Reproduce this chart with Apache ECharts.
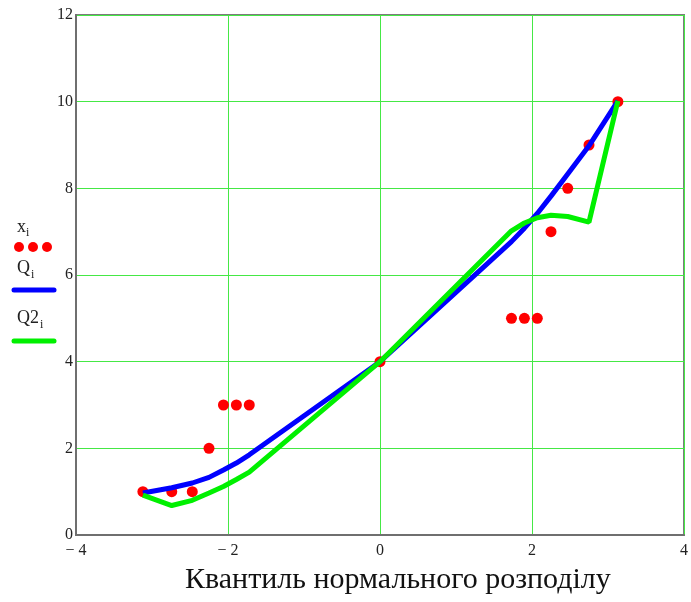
<!DOCTYPE html>
<html>
<head>
<meta charset="utf-8">
<script src="https://cdn.jsdelivr.net/npm/echarts@6/dist/echarts.min.js"></script>
<style>
  html, body { margin: 0; padding: 0; background: #fff; }
  #chart { width: 691px; height: 602px; }
</style>
</head>
<body>
<div id="chart"></div>
<script>
// Normal quantiles (x positions) shared by all three series
var quantiles = [-3.12, -2.74, -2.47, -2.25, -2.06, -1.89, -1.72, 0, 1.73, 1.90, 2.07, 2.25, 2.47, 2.75, 3.13];
// Sorted sample values x_i
var xValues = [1, 1, 1, 2, 3, 3, 3, 4, 5, 5, 5, 7, 8, 9, 10];
// Fitted quantile curve Q_i
var qValues = [0.97, 1.09, 1.20, 1.33, 1.50, 1.66, 1.85, 4.0, 6.77, 7.08, 7.42, 7.82, 8.33, 8.98, 10.02];
// Second fitted curve Q2_i
var q2Values = [0.92, 0.68, 0.80, 0.97, 1.12, 1.28, 1.45, 4.0, 7.02, 7.20, 7.32, 7.38, 7.35, 7.22, 10.02];
// Axis settings
var xTicks = { min: -4, max: 4, step: 2 };
var yTicks = { min: 0, max: 12, step: 2 };
var xTitle = 'Квантиль нормального розподілу';

function pairs(xs, ys) {
  return xs.map(function (x, i) { return [x, ys[i]]; });
}

var serif = '"Liberation Serif", "Times New Roman", serif';
var gridGreen = '#45e845';

var chart = echarts.init(document.getElementById('chart'));
chart.setOption({
  animation: false,
  grid: {
    left: 76, top: 15, right: 4, bottom: 67,
    show: true, borderColor: '#7c7c7c', borderWidth: 2
  },
  xAxis: {
    type: 'value',
    min: xTicks.min, max: xTicks.max, interval: xTicks.step,
    axisLine: { onZero: false, lineStyle: { color: '#6f6f6f', width: 2 } },
    axisTick: { show: false },
    splitLine: { show: true, lineStyle: { color: gridGreen, width: 1 } },
    axisLabel: {
      fontFamily: serif, fontSize: 16, color: '#222', margin: 8,
      formatter: function (v) { return v < 0 ? '\u2212 ' + Math.abs(v) : String(v); }
    }
  },
  yAxis: {
    type: 'value',
    min: yTicks.min, max: yTicks.max, interval: yTicks.step,
    axisLine: { onZero: false, lineStyle: { color: '#6f6f6f', width: 2 } },
    axisTick: { show: false },
    splitLine: { show: true, lineStyle: { color: gridGreen, width: 1 } },
    axisLabel: { fontFamily: serif, fontSize: 16, color: '#222', margin: 3 }
  },
  series: [
    {
      name: 'x',
      type: 'scatter',
      data: pairs(quantiles, xValues),
      symbol: 'circle',
      symbolSize: 11,
      itemStyle: { color: '#ff0000', opacity: 1 },
      z: 2
    },
    {
      name: 'Q',
      type: 'line',
      data: pairs(quantiles, qValues),
      showSymbol: false,
      lineStyle: { color: '#0000ff', width: 5 },
      z: 3
    },
    {
      name: 'Q2',
      type: 'line',
      data: pairs(quantiles, q2Values),
      showSymbol: false,
      lineStyle: { color: '#00f000', width: 5 },
      z: 4
    }
  ],
  graphic: [
    // Axis title
    { type: 'text', left: 185, top: 565,
      style: { text: xTitle, font: '30px ' + serif, fill: '#111' } },
    // Legend: x_i
    { type: 'text', left: 17, top: 218, style: { text: 'x', font: '18px ' + serif, fill: '#222' } },
    { type: 'text', left: 26, top: 227, style: { text: 'i', font: '12px ' + serif, fill: '#222' } },
    { type: 'circle', shape: { cx: 19, cy: 247, r: 5 }, style: { fill: '#ff0000' } },
    { type: 'circle', shape: { cx: 33, cy: 247, r: 5 }, style: { fill: '#ff0000' } },
    { type: 'circle', shape: { cx: 47, cy: 247, r: 5 }, style: { fill: '#ff0000' } },
    // Legend: Q_i
    { type: 'text', left: 17, top: 259, style: { text: 'Q', font: '18px ' + serif, fill: '#222' } },
    { type: 'text', left: 31, top: 269, style: { text: 'i', font: '12px ' + serif, fill: '#222' } },
    { type: 'line', shape: { x1: 14, y1: 290, x2: 54, y2: 290 },
      style: { stroke: '#0000ff', lineWidth: 5, lineCap: 'round' } },
    // Legend: Q2_i
    { type: 'text', left: 17, top: 309, style: { text: 'Q2', font: '18px ' + serif, fill: '#222' } },
    { type: 'text', left: 40, top: 319, style: { text: 'i', font: '12px ' + serif, fill: '#222' } },
    { type: 'line', shape: { x1: 14, y1: 341, x2: 54, y2: 341 },
      style: { stroke: '#00f000', lineWidth: 5, lineCap: 'round' } }
  ]
});
</script>
</body>
</html>
